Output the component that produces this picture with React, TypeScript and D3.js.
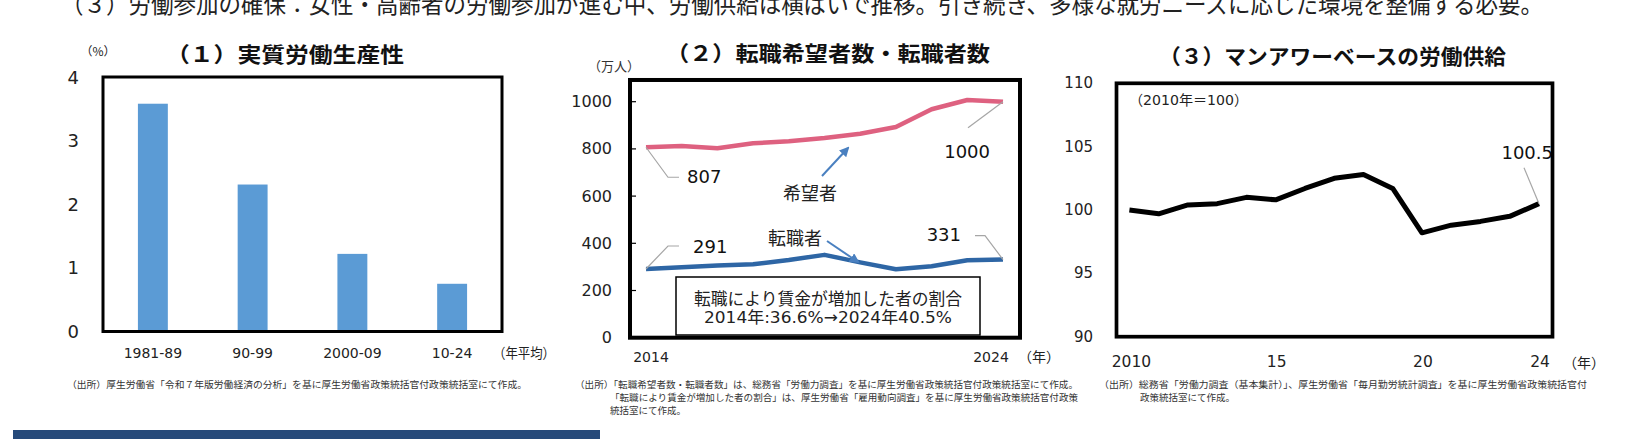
import * as d3 from 'd3';

// (1) 実質労働生産性
const prodCategories = ['1981-89', '90-99', '2000-09', '10-24'];
const prodValues = [3.58, 2.31, 1.22, 0.75];
const prodTicks = [0, 1, 2, 3, 4];

// (2) 転職希望者数・転職者数
const jobYears = [2014, 2015, 2016, 2017, 2018, 2019, 2020, 2021, 2022, 2023, 2024];
const jobSeekers = [807, 812, 803, 824, 832, 846, 864, 893, 968, 1007, 1000];
const jobChangers = [291, 299, 306, 311, 329, 351, 319, 290, 303, 328, 331];
const jobTicks = [0, 200, 400, 600, 800, 1000];
const jobXLabels = [2014, 2024];

// (3) マンアワーベースの労働供給
const supplyYears = [2010, 2011, 2012, 2013, 2014, 2015, 2016, 2017, 2018, 2019, 2020, 2021, 2022, 2023, 2024];
const supplyValues = [100.0, 99.7, 100.4, 100.5, 101.0, 100.8, 101.7, 102.5, 102.8, 101.7, 98.2, 98.8, 99.1, 99.5, 100.5];
const supplyTicks = [90, 95, 100, 105, 110];
const supplyXTicks = [2010, 2015, 2020, 2024];
const supplyXLabels = ['2010', '15', '20', '24'];

const NUM = '"DejaVu Sans", "Noto Sans CJK JP", sans-serif';
const JP = '"Noto Sans CJK JP", sans-serif';
const PINK = '#de6180';
const BLUE = '#2e66a5';
const ARROW = '#4a80c0';
const GRAY = '#a6a6a6';

function ProductivityChart() {
  const x = d3.scaleBand<string>().domain(prodCategories).range([103, 502]).paddingInner(0.7).paddingOuter(0.35);
  const y = d3.scaleLinear().domain([0, 4]).range([331.5, 77]);
  return (
    <g>
      <text x={98} y={50} fontFamily={JP} fontSize={12} textAnchor="middle" dominantBaseline="central" fill="#222">（%）</text>
      <text x={166} y={53} fontFamily={JP} fontSize={21} fontWeight="bold" dominantBaseline="central" textLength={238} lengthAdjust="spacingAndGlyphs" fill="#111">（１）実質労働生産性</text>
      {prodValues.map((v, i) => (
        <rect key={i} x={x(prodCategories[i])} y={y(v)} width={x.bandwidth()} height={y(0) - y(v)} fill="#5b9bd5" />
      ))}
      <rect x={103} y={y(4)} width={399} height={y(0) - y(4)} fill="none" stroke="#000" strokeWidth={3} />
      {prodTicks.map((t) => (
        <text key={t} x={79} y={y(t)} fontFamily={NUM} fontSize={18} textAnchor="end" dominantBaseline="central" fill="#222">{t}</text>
      ))}
      {prodCategories.map((c) => (
        <text key={c} x={(x(c) ?? 0) + x.bandwidth() / 2} y={353} fontFamily={NUM} fontSize={14} textAnchor="middle" dominantBaseline="central" fill="#222">{c}</text>
      ))}
      <text x={493} y={352} fontFamily={JP} fontSize={14} dominantBaseline="central" textLength={62} lengthAdjust="spacingAndGlyphs" fill="#222">（年平均）</text>
    </g>
  );
}

function JobChart() {
  const x = d3.scaleLinear().domain([2014, 2024]).range([646, 1003]);
  const y = d3.scaleLinear().domain([0, 1000]).range([337.7, 101.7]);
  const line = d3.line<number>().x((_, i) => x(jobYears[i])).y((d) => y(d));
  const top = y(1092);
  const n = jobYears.length - 1;
  const s0 = [x(jobYears[0]), y(jobSeekers[0])];
  const s1 = [x(jobYears[n]), y(jobSeekers[n])];
  const c0 = [x(jobYears[0]), y(jobChangers[0])];
  const c1 = [x(jobYears[n]), y(jobChangers[n])];
  return (
    <g>
      <defs>
        <marker id="arr" viewBox="0 0 10 10" refX={8} refY={5} markerWidth={5} markerHeight={5} orient="auto">
          <path d="M0,0 L10,5 L0,10 z" fill={ARROW} />
        </marker>
      </defs>
      <text x={614} y={65} fontFamily={JP} fontSize={13} textAnchor="middle" dominantBaseline="central" fill="#333">（万人）</text>
      <text x={666} y={52} fontFamily={JP} fontSize={21} fontWeight="bold" dominantBaseline="central" textLength={324} lengthAdjust="spacingAndGlyphs" fill="#111">（２）転職希望者数・転職者数</text>
      {jobTicks.map((t) => (
        <g key={t}>
          <line x1={630} x2={636} y1={y(t)} y2={y(t)} stroke="#000" strokeWidth={1.2} />
          <text x={612} y={y(t)} fontFamily={NUM} fontSize={16} textAnchor="end" dominantBaseline="central" fill="#222">{t}</text>
        </g>
      ))}
      <path d={line(jobSeekers) ?? ''} fill="none" stroke={PINK} strokeWidth={4.5} strokeLinejoin="round" />
      <path d={line(jobChangers) ?? ''} fill="none" stroke={BLUE} strokeWidth={4.5} strokeLinejoin="round" />
      {/* leader lines and data labels */}
      <polyline points={`${s0[0]},${s0[1]} ${s0[0] + 22},${s0[1] + 30} ${s0[0] + 33},${s0[1] + 30}`} fill="none" stroke={GRAY} strokeWidth={1.2} />
      <text x={687} y={s0[1] + 29} fontFamily={NUM} fontSize={18} dominantBaseline="central" fill="#111">{jobSeekers[0]}</text>
      <line x1={s1[0]} y1={s1[1]} x2={s1[0] - 35} y2={s1[1] + 26} stroke={GRAY} strokeWidth={1.2} />
      <text x={990} y={s1[1] + 50} fontFamily={NUM} fontSize={18} textAnchor="end" dominantBaseline="central" fill="#111">{jobSeekers[n]}</text>
      <polyline points={`${c0[0]},${c0[1]} ${c0[0] + 22},${c0[1] - 23} ${c0[0] + 33},${c0[1] - 23}`} fill="none" stroke={GRAY} strokeWidth={1.2} />
      <text x={693} y={c0[1] - 23} fontFamily={NUM} fontSize={18} dominantBaseline="central" fill="#111">{jobChangers[0]}</text>
      <polyline points={`${c1[0]},${c1[1]} ${c1[0] - 18},${c1[1] - 24} ${c1[0] - 28},${c1[1] - 24}`} fill="none" stroke={GRAY} strokeWidth={1.2} />
      <text x={961} y={c1[1] - 25} fontFamily={NUM} fontSize={18} textAnchor="end" dominantBaseline="central" fill="#111">{jobChangers[n]}</text>
      <text x={810} y={192} fontFamily={JP} fontSize={18} textAnchor="middle" dominantBaseline="central" fill="#222">希望者</text>
      <line x1={822} y1={176} x2={848} y2={148} stroke={ARROW} strokeWidth={2} markerEnd="url(#arr)" />
      <text x={795} y={237} fontFamily={JP} fontSize={18} textAnchor="middle" dominantBaseline="central" fill="#222">転職者</text>
      <line x1={827} y1={241} x2={858} y2={262} stroke={ARROW} strokeWidth={2} markerEnd="url(#arr)" />
      <rect x={676} y={277} width={304} height={58} fill="#fff" stroke="#000" strokeWidth={1.5} />
      <text x={828} y={297} fontFamily={JP} fontSize={17} textAnchor="middle" dominantBaseline="central" textLength={268} lengthAdjust="spacingAndGlyphs" fill="#222">転職により賃金が増加した者の割合</text>
      <text x={828} y={317} fontFamily={NUM} fontSize={16} textAnchor="middle" dominantBaseline="central" textLength={248} lengthAdjust="spacingAndGlyphs" fill="#222">2014年:36.6%→2024年40.5%</text>
      <rect x={630} y={top} width={390} height={y(0) - top} fill="none" stroke="#000" strokeWidth={4} />
      {jobXLabels.map((v, i) => (
        <text key={v} x={x(v) + (i === 0 ? 5 : -12)} y={357} fontFamily={NUM} fontSize={14} textAnchor="middle" dominantBaseline="central" fill="#222">{v}</text>
      ))}
      <text x={1018} y={356} fontFamily={JP} fontSize={14} dominantBaseline="central" fill="#222">（年）</text>
    </g>
  );
}

function SupplyChart() {
  const x = d3.scaleLinear().domain([2010, 2024]).range([1129.4, 1539]);
  const y = d3.scaleLinear().domain([90, 110]).range([336.7, 83.3]);
  const line = d3.line<number>().x((_, i) => x(supplyYears[i])).y((d) => y(d));
  const n = supplyYears.length - 1;
  const last = [x(supplyYears[n]), y(supplyValues[n])];
  return (
    <g>
      <text x={1159} y={55} fontFamily={JP} fontSize={21} fontWeight="bold" dominantBaseline="central" textLength={347} lengthAdjust="spacingAndGlyphs" fill="#111">（３）マンアワーベースの労働供給</text>
      {supplyTicks.map((t) => (
        <text key={t} x={1093} y={y(t)} fontFamily={NUM} fontSize={15} textAnchor="end" dominantBaseline="central" fill="#222">{t}</text>
      ))}
      <text x={1129} y={100} fontFamily={NUM} fontSize={14} dominantBaseline="central" textLength={119} lengthAdjust="spacingAndGlyphs" fill="#222">（2010年＝100）</text>
      <path d={line(supplyValues) ?? ''} fill="none" stroke="#000" strokeWidth={5} strokeLinejoin="round" />
      <line x1={last[0]} y1={last[1]} x2={last[0] - 15} y2={last[1] - 36} stroke={GRAY} strokeWidth={1.2} />
      <text x={1553} y={last[1] - 51} fontFamily={NUM} fontSize={18} textAnchor="end" dominantBaseline="central" fill="#111">{supplyValues[n].toFixed(1)}</text>
      <rect x={1116.5} y={y(110)} width={436} height={y(90) - y(110)} fill="none" stroke="#000" strokeWidth={3.7} />
      {supplyXTicks.map((v, i) => (
        <text key={v} x={x(v) + (i === 0 ? 2 : 1)} y={362} fontFamily={NUM} fontSize={15.5} textAnchor="middle" dominantBaseline="central" fill="#222">{supplyXLabels[i]}</text>
      ))}
      <text x={1563} y={362} fontFamily={JP} fontSize={14} dominantBaseline="central" fill="#222">（年）</text>
    </g>
  );
}

export default function App() {
  return (
    <svg width={1625} height={439} viewBox="0 0 1625 439" style={{ position: 'absolute', left: 0, top: 0, background: '#fff' }}>
      <rect width={1625} height={439} fill="#fff" />
      <text x={61} y={13} fontFamily={JP} fontSize={24} textLength={1482} lengthAdjust="spacingAndGlyphs" fill="#222">（３）労働参加の確保：女性・高齢者の労働参加が進む中、労働供給は横ばいで推移。引き続き、多様な就労ニーズに応じた環境を整備する必要。</text>
      <ProductivityChart />
      <JobChart />
      <SupplyChart />
      <g fontFamily={JP} fontSize={9.5} fill="#333">
        <text x={67} y={388} textLength={460} lengthAdjust="spacingAndGlyphs">（出所）厚生労働省「令和７年版労働経済の分析」を基に厚生労働省政策統括官付政策統括室にて作成。</text>
        <text x={575} y={388} textLength={503} lengthAdjust="spacingAndGlyphs">（出所）「転職希望者数・転職者数」は、総務省「労働力調査」を基に厚生労働省政策統括官付政策統括室にて作成。</text>
        <text x={610} y={401} textLength={468} lengthAdjust="spacingAndGlyphs">「転職により賃金が増加した者の割合」は、厚生労働省「雇用動向調査」を基に厚生労働省政策統括官付政策</text>
        <text x={610} y={414}>統括室にて作成。</text>
        <text x={1099} y={388} textLength={488} lengthAdjust="spacingAndGlyphs">（出所）総務省「労働力調査（基本集計）」、厚生労働省「毎月勤労統計調査」を基に厚生労働省政策統括官付</text>
        <text x={1140} y={401}>政策統括室にて作成。</text>
      </g>
      <rect x={13} y={430} width={587} height={9} fill="#264a7a" />
    </svg>
  );
}
